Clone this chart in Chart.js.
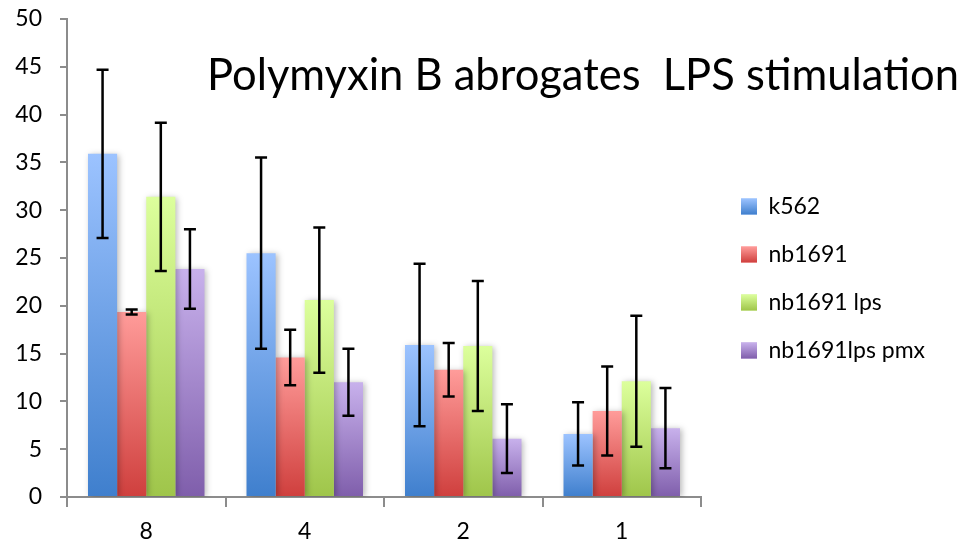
<!DOCTYPE html>
<html>
<head>
<meta charset="utf-8">
<script src="https://cdn.jsdelivr.net/npm/chart.js@4.4.1/dist/chart.umd.min.js"></script>
<style>
  html, body { margin: 0; padding: 0; background: #fff; }
</style>
</head>
<body>
<canvas id="chart" width="965" height="545"></canvas>
<script>
// Polymyxin dilution groups along the x axis
const categories = ['8', '4', '2', '1'];
const seriesNames = ['k562', 'nb1691', 'nb1691 lps', 'nb1691lps pmx'];

// Mean values per series
const k562 = [35.9, 25.5, 15.9, 6.6];
const nb1691 = [19.35, 14.6, 13.3, 9.0];
const nb1691Lps = [31.4, 20.6, 15.8, 12.1];
const nb1691LpsPmx = [23.85, 12.0, 6.1, 7.2];

// Error bar half-widths per series
const k562Err = [8.8, 10.0, 8.5, 3.3];
const nb1691Err = [0.25, 2.9, 2.8, 4.65];
const nb1691LpsErr = [7.75, 7.6, 6.8, 6.85];
const nb1691LpsPmxErr = [4.15, 3.5, 3.6, 4.2];

const yTicks = [0, 5, 10, 15, 20, 25, 30, 35, 40, 45, 50];

const titleText = 'Polymyxin B abrogates  LPS stimulation';
const FONT = 'Lato, "Open Sans", sans-serif';
const LEGEND_WIDTH = 264;   // space kept on the right for the legend column
const LEGEND_INDENT = 15;   // extra gap between plot and legend swatches
const LEGEND_DROP = 6;      // nudge the legend column down

// light top / dark bottom for each series
const shades = [
  ['#9cc3ff', '#3f7fcd'],
  ['#ff9c9a', '#cf3f3d'],
  ['#dcff9c', '#9fc54a'],
  ['#c8b1ec', '#7f5eab']
];

function barGradient(ctx, i) {
  const chart = ctx.chart;
  const y = chart.scales.y;
  if (!chart.chartArea || !y || ctx.raw === undefined) return shades[i][1];
  const top = y.getPixelForValue(ctx.raw);
  const bottom = y.getPixelForValue(0);
  if (!isFinite(top) || !isFinite(bottom)) return shades[i][1];
  const g = chart.ctx.createLinearGradient(0, top, 0, bottom);
  g.addColorStop(0, shades[i][0]);
  g.addColorStop(1, shades[i][1]);
  return g;
}

const values = [k562, nb1691, nb1691Lps, nb1691LpsPmx];
const errors = [k562Err, nb1691Err, nb1691LpsErr, nb1691LpsPmxErr];

const datasets = seriesNames.map((name, i) => ({
  label: name,
  data: values[i],
  errors: errors[i],
  backgroundColor: (ctx) => barGradient(ctx, i),
  borderWidth: 0,
  categoryPercentage: 0.735,
  barPercentage: 1.0
}));

// soft shadow behind the bars
const barShadow = {
  id: 'barShadow',
  beforeDatasetsDraw(chart) {
    const c = chart.ctx;
    c.save();
    c.shadowColor = 'rgba(0,0,0,0.28)';
    c.shadowBlur = 6;
    c.shadowOffsetX = 2;
    c.shadowOffsetY = 1;
  },
  afterDatasetsDraw(chart) {
    chart.ctx.restore();
  }
};

// black error bars with caps
const errorBars = {
  id: 'errorBars',
  afterDatasetsDraw(chart) {
    const c = chart.ctx;
    const y = chart.scales.y;
    c.save();
    c.strokeStyle = '#000';
    c.lineWidth = 2.5;
    chart.data.datasets.forEach((ds, di) => {
      const meta = chart.getDatasetMeta(di);
      meta.data.forEach((bar, j) => {
        const v = ds.data[j];
        const e = ds.errors[j];
        const yt = y.getPixelForValue(v + e);
        const yb = y.getPixelForValue(v - e);
        const x = bar.x;
        c.beginPath();
        c.moveTo(x, yt); c.lineTo(x, yb);
        c.moveTo(x - 6, yt); c.lineTo(x + 6, yt);
        c.moveTo(x - 6, yb); c.lineTo(x + 6, yb);
        c.stroke();
      });
    });
    c.restore();
  }
};

// fixed-width legend column, swatches pushed a little further right
const legendSpacing = {
  id: 'legendSpacing',
  beforeLayout(chart) {
    const lg = chart.legend;
    if (!lg || lg._fixedFit) return;
    const fit = lg.fit;
    lg.fit = function () {
      fit.call(this);
      this.width = LEGEND_WIDTH;
    };
    lg._fixedFit = true;
  },
  afterLayout(chart) {
    const lg = chart.legend;
    if (!lg) return;
    lg.left += LEGEND_INDENT;
    lg.top += LEGEND_DROP;
    lg.bottom += LEGEND_DROP;
  }
};

// repaint each legend swatch with the bar gradient
const legendGradient = {
  id: 'legendGradient',
  afterDraw(chart) {
    const lg = chart.legend;
    if (!lg || !lg.legendItems || !lg.columnSizes) return;
    const c = chart.ctx;
    const lh = lg.options.labels;
    const fs = lh.font.size;
    const bw = lh.boxWidth, bh = lh.boxHeight;
    const x = lg.left + lh.padding;
    let y = (lg.top + lh.padding + lg.bottom - lg.columnSizes[0].height) / 2;
    lg.legendItems.forEach((item, i) => {
      const by = y + (fs - bh) / 2;
      const g = c.createLinearGradient(0, by, 0, by + bh);
      g.addColorStop(0, shades[i][0]);
      g.addColorStop(1, shades[i][1]);
      c.fillStyle = g;
      c.fillRect(x, by, bw, bh);
      y += fs + lh.padding;
    });
  }
};

// title sits inside the plot area
const innerTitle = {
  id: 'innerTitle',
  afterDraw(chart) {
    const c = chart.ctx;
    c.save();
    c.fillStyle = '#000';
    c.font = '43.5px ' + FONT;
    c.textAlign = 'left';
    c.textBaseline = 'alphabetic';
    c.fillText(titleText, 207, 90);
    c.restore();
  }
};

new Chart(document.getElementById('chart'), {
  type: 'bar',
  data: { labels: categories, datasets },
  plugins: [barShadow, errorBars, legendSpacing, legendGradient, innerTitle],
  options: {
    responsive: false,
    animation: false,
    layout: { padding: 0 },
    plugins: {
      title: { display: false },
      tooltip: { enabled: false },
      legend: {
        position: 'right',
        labels: {
          font: { family: FONT, size: 23 },
          color: '#000',
          boxWidth: 16,
          boxHeight: 16,
          padding: 25
        }
      }
    },
    scales: {
      x: {
        afterFit(axis) { axis.height = 48; },
        grid: {
          offset: true,
          drawOnChartArea: false,
          drawTicks: true,
          tickLength: 10,
          color: '#8c8c8c',
          lineWidth: 2
        },
        border: { color: '#8c8c8c', width: 2 },
        ticks: {
          font: { family: FONT, size: 23 },
          color: '#000',
          padding: 11
        }
      },
      y: {
        min: 0,
        max: 50,
        afterFit(axis) {
          axis.width = 67;
          axis.paddingTop = 19;
        },
        afterBuildTicks(axis) { axis.ticks = yTicks.map(v => ({ value: v })); },
        grid: {
          drawOnChartArea: false,
          drawTicks: true,
          tickLength: 7,
          color: '#8c8c8c',
          lineWidth: 2
        },
        border: { color: '#8c8c8c', width: 2 },
        ticks: {
          font: { family: FONT, size: 23 },
          color: '#000',
          padding: 18
        }
      }
    }
  }
});
</script>
</body>
</html>
